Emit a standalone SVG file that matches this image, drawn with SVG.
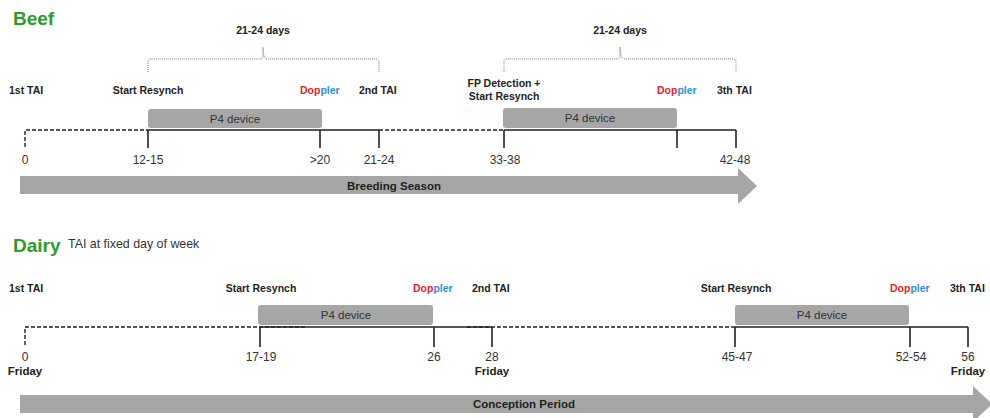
<svg xmlns="http://www.w3.org/2000/svg" width="990" height="418" viewBox="0 0 990 418">
<style>
  text { font-family: "Liberation Sans", Arial, sans-serif; }
  .title { font-size: 19px; font-weight: bold; fill: #2e9a2e; }
  .sub { font-size: 12.4px; fill: #333; }
  .lbl { font-size: 10.5px; font-weight: bold; fill: #222; }
  .num { font-size: 12px; fill: #333; text-anchor: middle; }
  .fri { font-size: 11.5px; font-weight: bold; fill: #222; text-anchor: middle; }
  .p4 { fill: #a6a6a6; }
  .p4t { font-size: 11.5px; fill: #333; text-anchor: middle; }
  .arrow { fill: #a6a6a6; }
  .arrt { font-size: 11.5px; font-weight: bold; fill: #222; text-anchor: middle; }
  .solid { stroke: #222; stroke-width: 1.6; fill: none; }
  .dash { stroke: #222; stroke-width: 1.4; stroke-dasharray: 4 2; fill: none; }
  .brace { stroke: #777; stroke-width: 1; stroke-dasharray: 1 1; fill: none; }
  .red { fill: #e8202a; }
  .blue { fill: #2e8fd6; }
</style>

<!-- Titles -->
<g id="beef-title"><text class="title" x="13" y="25">Beef</text></g>
<g id="dairy-title">
  <text class="title" x="13" y="252">Dairy</text>
  <text class="sub" x="68" y="248">TAI at fixed day of week</text>
</g>

<!-- Beef braces -->
<g id="beef-brace1">
  <path class="brace" d="M148,72 V62 Q148,59 151,59 H260 Q263,59 263,56 V47 Q263,56 266,59 H376 Q379,59 379,62 V72"/>
  <text class="lbl" x="263" y="34" text-anchor="middle">21-24 days</text>
</g>
<g id="beef-brace2">
  <path class="brace" d="M504,72 V62 Q504,59 507,59 H617 Q620,59 620,56 V47 Q620,56 623,59 H733 Q736,59 736,62 V72"/>
  <text class="lbl" x="620" y="34" text-anchor="middle">21-24 days</text>
</g>

<!-- Beef labels -->
<g id="beef-labels">
  <text class="lbl" x="9" y="94">1st TAI</text>
  <text class="lbl" x="148" y="94" text-anchor="middle">Start Resynch</text>
  <text class="lbl" x="300" y="94"><tspan class="red">Dop</tspan><tspan class="blue">pler</tspan></text>
  <text class="lbl" x="359" y="94">2nd TAI</text>
  <text class="lbl" x="504" y="87" text-anchor="middle">FP Detection +</text>
  <text class="lbl" x="504" y="100" text-anchor="middle">Start Resynch</text>
  <text class="lbl" x="657" y="94"><tspan class="red">Dop</tspan><tspan class="blue">pler</tspan></text>
  <text class="lbl" x="717" y="94">3th TAI</text>
</g>

<!-- Beef P4 devices -->
<g id="beef-p4-1">
  <rect class="p4" x="148" y="109" width="174" height="19" rx="3"/>
  <text class="p4t" x="235" y="123">P4 device</text>
</g>
<g id="beef-p4-2">
  <rect class="p4" x="503" y="108" width="174" height="20" rx="3"/>
  <text class="p4t" x="590" y="122">P4 device</text>
</g>

<!-- Timelines -->
<g id="connectors">
  <path class="dash" d="M25,147 V130 H148"/>
  <path class="solid" d="M148,130 H379 M148,130 V148 M320,130 V148 M379,130 V148"/>
  <path class="dash" d="M379,130 H504"/>
  <path class="solid" d="M504,130 H736 M504,130 V148 M677,130 V148 M736,130 V148"/>

  <path class="dash" d="M25,345 V327 H307"/>
  <path class="solid" d="M260,327 H492 M260,327 V347 M434,327 V347 M492,327 V347"/>
  <path class="dash" d="M467,327 H735"/>
  <path class="solid" d="M735,327 H968 M735,327 V347 M910,327 V347 M968,327 V347"/>
</g>

<g id="beef-numbers">
  <text class="num" x="25" y="164">0</text>
  <text class="num" x="148" y="164">12-15</text>
  <text class="num" x="320" y="164">&gt;20</text>
  <text class="num" x="379" y="164">21-24</text>
  <text class="num" x="505" y="164">33-38</text>
  <text class="num" x="735" y="164">42-48</text>
</g>

<g id="beef-arrow">
  <polygon class="arrow" points="20,176 738,176 738,168 757,186 738,204 738,194 20,194"/>
  <text class="arrt" x="394" y="190">Breeding Season</text>
</g>

<!-- Dairy labels -->
<g id="dairy-labels">
  <text class="lbl" x="9" y="292">1st TAI</text>
  <text class="lbl" x="261" y="292" text-anchor="middle">Start Resynch</text>
  <text class="lbl" x="413" y="292"><tspan class="red">Dop</tspan><tspan class="blue">pler</tspan></text>
  <text class="lbl" x="472" y="292">2nd TAI</text>
  <text class="lbl" x="736" y="292" text-anchor="middle">Start Resynch</text>
  <text class="lbl" x="890" y="292"><tspan class="red">Dop</tspan><tspan class="blue">pler</tspan></text>
  <text class="lbl" x="950" y="292">3th TAI</text>
</g>

<g id="dairy-p4-1">
  <rect class="p4" x="258" y="305" width="175" height="20" rx="3"/>
  <text class="p4t" x="346" y="319">P4 device</text>
</g>
<g id="dairy-p4-2">
  <rect class="p4" x="735" y="305" width="174" height="20" rx="3"/>
  <text class="p4t" x="822" y="319">P4 device</text>
</g>

<g id="dairy-numbers">
  <text class="num" x="25" y="361">0</text>
  <text class="num" x="261" y="361">17-19</text>
  <text class="num" x="434" y="361">26</text>
  <text class="num" x="492" y="361">28</text>
  <text class="num" x="737" y="361">45-47</text>
  <text class="num" x="911" y="361">52-54</text>
  <text class="num" x="968" y="361">56</text>
  <text class="fri" x="25" y="375">Friday</text>
  <text class="fri" x="492" y="375">Friday</text>
  <text class="fri" x="968" y="375">Friday</text>
</g>

<g id="dairy-arrow">
  <polygon class="arrow" points="20,395 973,395 973,386 992,404 973,422 973,413 20,413"/>
  <text class="arrt" x="524" y="408">Conception Period</text>
</g>
</svg>
